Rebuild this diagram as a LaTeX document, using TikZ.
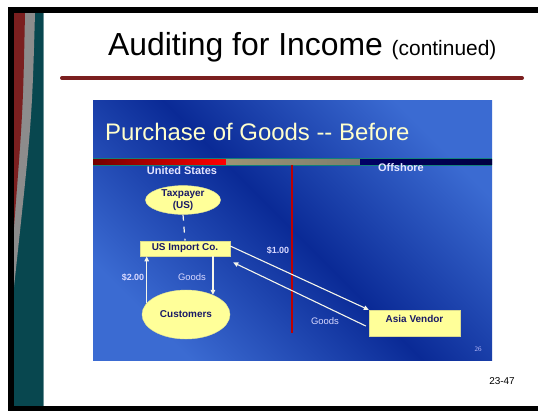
\documentclass[tikz,border=0pt]{standalone}
\usepackage{fontspec}
\setmainfont{Liberation Sans}
\newfontfamily\pagefont{Liberation Serif}
\usetikzlibrary{arrows.meta}
\usetikzlibrary{shapes.geometric}
\usetikzlibrary{positioning}

\definecolor{framered}{HTML}{7B1F1F}
\definecolor{framegrey}{HTML}{8C8C8C}
\definecolor{frameteal}{HTML}{08474F}
\definecolor{panellight}{HTML}{3B6BD2}
\definecolor{paneldark}{HTML}{0A2A96}
\definecolor{barteal}{HTML}{12807A}
\definecolor{bartan}{HTML}{9C9474}
\definecolor{bargrey}{HTML}{7E7E6E}
\definecolor{ovalyellow}{HTML}{FFFF99}
\definecolor{navytext}{HTML}{1A1A66}
\definecolor{creamtext}{HTML}{FFFFCC}
\definecolor{arrowwhite}{HTML}{F6F6EA}

\begin{document}
\begin{tikzpicture}[x=1bp, y=-1bp,
  oval/.style={ellipse, fill=ovalyellow, draw=ovalyellow!80!gray, inner sep=0pt,
    text=navytext, align=center, font=\bfseries\fontsize{10}{11.5}\selectfont},
  entity/.style={rectangle, fill=ovalyellow, draw=ovalyellow!70!gray, inner sep=0pt,
    text=navytext, font=\bfseries\fontsize{10}{11}\selectfont},
  flow/.style={draw=arrowwhite, line width=1.1bp, -{Triangle[length=5bp, width=4.5bp]}},
  region/.style={text=white!90!blue, font=\bfseries\fontsize{11}{12}\selectfont},
  tag/.style={text=white!85!blue, font=\fontsize{9.5}{10}\selectfont},
  money/.style={text=white!85!blue, font=\bfseries\fontsize{9}{10}\selectfont},
]
\useasboundingbox (0,0) rectangle (538,411);
\fill[white] (0,0) rectangle (538,411);

% slide frame
\fill[black] (8,7) rectangle (538,13);
\fill[black] (8,7) rectangle (14,411);
\fill[black] (8,406) rectangle (538,411);
\fill[frameteal] (14,13) rectangle (43,406);
\draw[frameteal!60!white, line width=0.8bp] (43,13) -- (43,406);
\fill[framegrey] (14,13) -- (35,13) .. controls (32,120) .. (14,287) -- cycle;
\fill[framered] (14,13) -- (25,13) .. controls (23,110) .. (14,227) -- cycle;

% slide title
\node[anchor=base west, inner sep=0pt] (title) at (108,55)
  {\fontsize{32}{34}\selectfont Auditing for Income \fontsize{21}{23}\selectfont(continued)};
\draw[framered, line width=4bp, line cap=round] (62,78) -- (522,78);

% picture panel
\shade[top color=panellight, bottom color=panellight, middle color=paneldark,
  shading angle=-45] (93,100) rectangle (492,360);
\node[anchor=base west, inner sep=0pt, text=creamtext] (heading) at (105,140)
  {\fontsize{24}{26}\selectfont Purchase of Goods {-}{-} Before};
\fill[barteal] (93,157.5) rectangle (492,166);
\shade[left color=red!45!black, right color=red] (93,159.5) rectangle (226,164.5);
\shade[left color=bartan, middle color=creamtext, right color=bargrey]
  (226,159.5) rectangle (360,164.5);
\shade[left color=blue!40!black, middle color=blue!75!black, right color=blue!25!black]
  (360,159.5) rectangle (492,164.5);
\node[region] (us) at (182,171) {United States};
\node[region] (offshore) at (401,168) {Offshore};
\coordinate (bordertop) at (292,165);
\coordinate (borderbot) at (292,333);
\draw[red!75!black, line width=1.1bp] (bordertop) -- (borderbot);

% parties
\node[oval, minimum width=75bp, minimum height=28bp] (tax) at (183,200)
  {Taxpayer\\(US)};
\node[entity, minimum width=90bp, minimum height=15.5bp] (import) at (185,248.5)
  {US Import Co.};
\node[oval, minimum width=88bp, minimum height=49bp] (cust) at (186,314.5)
  {Customers};
\node[entity, minimum width=91bp, minimum height=26bp, text height=7bp, text depth=9bp]
  (vendor) at (414.5,323) {Asia Vendor};

% flows
\draw[arrowwhite, line width=1.2bp, dash pattern=on 6bp off 6bp] (tax.south) -- (import.north);
\draw[flow] (cust.164) -- (cust.164 |- import.south);
\draw[flow] (cust.36 |- import.south) -- (cust.36);
\coordinate (payout) at ([yshift=2.5bp]import.east);
\coordinate (goodsin) at ([xshift=3bp, yshift=-6bp]import.south east);
\coordinate (goodsout) at ([xshift=-3bp, yshift=-3bp]vendor.west);
\draw[flow] (payout) -- (vendor.north west);
\draw[flow] (goodsout) -- (goodsin);

% labels
\node[money] (paid2) at (133,277) {\$2.00};
\node[tag] (goodsl) at (192,277) {Goods};
\node[money] (paid1) at (278,250) {\$1.00};
\node[tag] (goodsr) at (325,321) {Goods};
\node[text=white!75!blue, font=\pagefont\fontsize{7}{8}\selectfont] (slideno) at (478,349) {26};
\node[font=\fontsize{10}{11}\selectfont] (pageno) at (502,381) {23-47};
\end{tikzpicture}
\end{document}
